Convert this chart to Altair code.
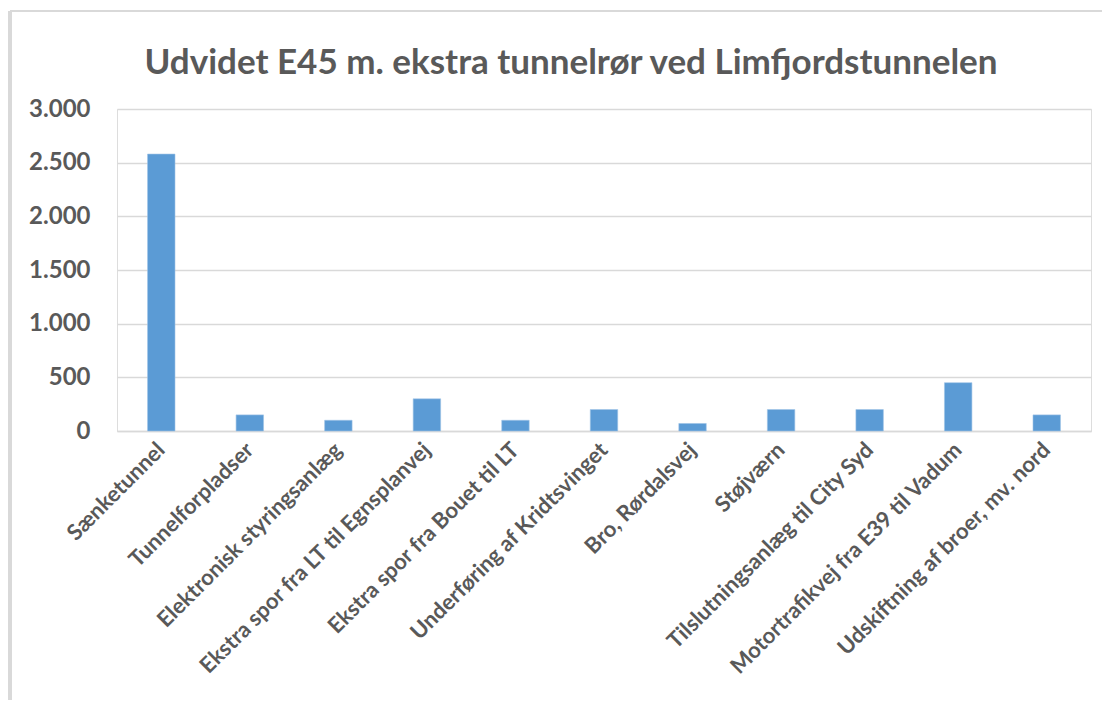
import altair as alt
import pandas as pd

categories = [
    "Sænketunnel",
    "Tunnelforpladser",
    "Elektronisk styringsanlæg",
    "Ekstra spor fra LT til Egnsplanvej",
    "Ekstra spor fra Bouet til LT",
    "Underføring af Kridtsvinget",
    "Bro, Rørdalsvej",
    "Støjværn",
    "Tilslutningsanlæg til City Syd",
    "Motortrafikvej fra E39 til Vadum",
    "Udskiftning af broer, mv. nord",
]
values = [2580, 150, 100, 300, 100, 200, 70, 200, 200, 450, 150]
y_ticks = [0, 500, 1000, 1500, 2000, 2500, 3000]
title_text = "Udvidet E45 m. ekstra tunnelrør ved Limfjordstunnelen"

df = pd.DataFrame({"kategori": categories, "værdi": values})

W, H = 974, 322
FONT = "Lato"
GREY = "#595959"

bars = alt.Chart(df).mark_bar(
    color="#5B9BD5", stroke="#9DC3E6", strokeWidth=0.6
).encode(
    x=alt.X(
        "kategori:N",
        sort=categories,
        title=None,
        scale=alt.Scale(paddingInner=0.69, paddingOuter=0.345),
        axis=alt.Axis(
            labelAngle=-45,
            labelAlign="right",
            labelBaseline="middle",
            labelFont=FONT,
            labelFontWeight="bold",
            labelFontSize=22,
            labelColor=GREY,
            labelPadding=15,
            ticks=False,
            domainColor="#d9d9d9",
            domainWidth=1.5,
            grid=False,
            labelLimit=400,
        ),
    ),
    y=alt.Y(
        "værdi:Q",
        title=None,
        scale=alt.Scale(domain=[0, 3000], nice=False),
        axis=alt.Axis(
            values=y_ticks,
            labelExpr="replace(format(datum.value, ','), ',', '.')",
            labelFont=FONT,
            labelFontWeight="bold",
            labelFontSize=24,
            labelColor=GREY,
            labelPadding=27,
            ticks=False,
            domain=False,
            gridColor="#d9d9d9",
            gridWidth=1.5,
        ),
    ),
)

frame_df = pd.DataFrame({"k": [0]})
left_edge = alt.Chart(frame_df).mark_rule(color="#d9d9d9", strokeWidth=4, clip=False).encode(
    x=alt.value(-107), y=alt.value(-98), y2=alt.value(H + 400)
)
top_edge = alt.Chart(frame_df).mark_rule(color="#d9d9d9", strokeWidth=2, clip=False).encode(
    x=alt.value(-107), x2=alt.value(W + 200), y=alt.value(-98)
)

chart = alt.layer(left_edge, top_edge, bars).properties(
    width=W,
    height=H,
    title=alt.TitleParams(
        title_text,
        font=FONT,
        fontSize=35,
        fontWeight="bold",
        color=GREY,
        anchor="middle",
        dx=-33,
        offset=-72,
    ),
    autosize=alt.AutoSizeParams(type="none"),
    padding={"left": 109, "top": 101, "right": 11, "bottom": 269},
).configure_view(stroke=None).configure(background="white")

chart.save("out.html", embed_options={"renderer": "svg", "actions": False})
